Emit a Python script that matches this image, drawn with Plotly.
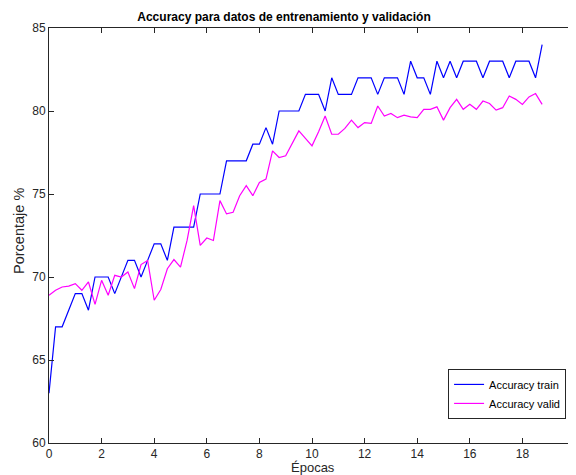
import plotly.graph_objects as go

epochs = [i * 0.25 for i in range(76)]
acc_train = [63, 67, 67, 68, 69, 69, 68, 70, 70, 70, 69, 70, 71, 71, 70, 71,
             72, 72, 71, 73, 73, 73, 73, 75, 75, 75, 75, 77, 77, 77, 77, 78,
             78, 79, 78, 80, 80, 80, 80, 81, 81, 81, 80, 82, 81, 81, 81, 82,
             82, 82, 81, 82, 82, 82, 81, 83, 82, 82, 81, 83, 82, 83, 82, 83,
             83, 83, 82, 83, 83, 83, 82, 83, 83, 83, 82, 84]
acc_valid = [68.9, 69.2, 69.4, 69.45, 69.6, 69.2, 69.7, 68.35, 69.8, 68.9, 70.1, 70.0,
             70.3, 69.3, 70.75, 71.0, 68.6, 69.25, 70.5, 71.05, 70.6, 72.2, 74.3, 71.9,
             72.35, 72.2, 74.6, 73.8, 73.9, 74.9, 75.5, 74.9, 75.7, 75.9, 77.6, 77.2,
             77.3, 78.1, 78.8, 78.35, 77.9, 78.75, 79.7, 78.6, 78.6, 78.95, 79.45, 79.0,
             79.3, 79.25, 80.3, 79.7, 79.85, 79.6, 79.75, 79.65, 79.6, 80.1, 80.1, 80.25,
             79.45, 80.2, 80.7, 80.1, 80.4, 80.1, 80.6, 80.45, 80.05, 80.2, 80.9, 80.7,
             80.4, 80.85, 81.05, 80.4]

title_text = "Accuracy para datos de entrenamiento y validación"
x_label = "Épocas"
y_label = "Porcentaje %"

fig = go.Figure()
fig.add_trace(go.Scatter(x=epochs, y=acc_train, mode="lines", name="Accuracy train",
                         line=dict(color="#0000ff", width=1.2)))
fig.add_trace(go.Scatter(x=epochs, y=acc_valid, mode="lines", name="Accuracy valid",
                         line=dict(color="#ff00ff", width=1.2)))

axis_common = dict(showgrid=False, zeroline=False, showline=True, linecolor="#262626",
                   linewidth=1, mirror="allticks", ticks="inside", ticklen=5,
                   tickcolor="#262626", tickfont=dict(size=12, color="#262626"),
                   automargin=False)

fig.update_layout(
    width=576, height=475,
    margin=dict(l=41, r=9, t=20, b=40),
    paper_bgcolor="white", plot_bgcolor="white",
    font=dict(family="Liberation Sans, Arial, sans-serif", size=11, color="#262626"),
    title=dict(text="<b>" + title_text + "</b>", x=276 / 576, xref="container",
               xanchor="center", y=1 - 9 / 475, yanchor="middle",
               font=dict(size=12, color="black")),
    xaxis=dict(range=[0, 20], tickvals=list(range(0, 21, 2)), **axis_common),
    yaxis=dict(range=[60, 85], tickvals=list(range(60, 86, 5)), **axis_common),
    legend=dict(x=0.983, y=0.058, xanchor="right", yanchor="bottom",
                bgcolor="white", bordercolor="#262626", borderwidth=1,
                font=dict(size=11, color="black"), tracegroupgap=0,
                itemwidth=30),
    showlegend=True,
    annotations=[
        dict(text=x_label, xref="paper", yref="paper", x=0.501, y=-0.060,
             xanchor="center", yanchor="middle", showarrow=False,
             font=dict(size=13, color="#262626")),
        dict(text=y_label, xref="paper", yref="paper", x=-0.057, y=0.511,
             xanchor="center", yanchor="middle", textangle=-90, showarrow=False,
             font=dict(size=14.5, color="#262626")),
    ],
)

fig.write_html("out.html")
